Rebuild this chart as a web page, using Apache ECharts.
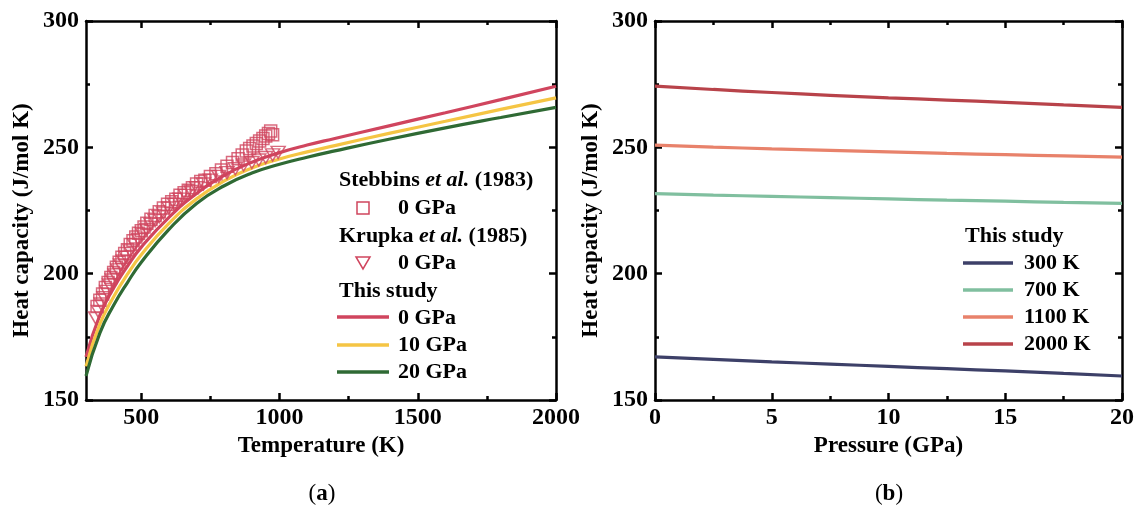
<!DOCTYPE html>
<html>
<head>
<meta charset="utf-8">
<script src="https://cdn.jsdelivr.net/npm/echarts@6/dist/echarts.min.js"></script>
<style>
  html, body { margin: 0; padding: 0; background: #fff; }
  #chart { width: 1141px; height: 513px; }
</style>
</head>
<body>
<div id="chart"></div>
<script>
// ---- (a) heat capacity against temperature ----
const tempK = [300, 350, 400, 450, 500, 600, 700, 800, 900, 1000, 1100, 1200, 1400, 1600, 1800, 2000];
const cp0GPa = [167.1, 183.5, 194.3, 203.0, 210.5, 222.3, 231.7, 238.9, 244.1, 247.9, 250.9, 253.5, 258.6, 263.7, 268.9, 274.2];
const cp10GPa = [163.3, 180.0, 190.9, 199.8, 207.5, 219.9, 229.6, 236.7, 241.8, 245.4, 248.2, 250.7, 255.6, 260.3, 265.0, 269.6];
const cp20GPa = [159.5, 176.5, 187.5, 196.5, 204.5, 217.5, 227.8, 234.8, 239.8, 243.3, 246.1, 248.6, 253.3, 257.7, 261.8, 265.8];

// Stebbins et al. (1983), 0 GPa
const stebbinsT = [340, 350, 360, 370, 380, 390, 400, 410, 420, 430, 440, 450, 460, 470, 480, 490, 500, 510, 520, 535, 550, 565, 580, 595, 610, 625, 640, 655, 670, 685, 700, 715, 730, 750, 770, 790, 810, 830, 850, 865, 880, 892, 904, 916, 928, 940, 950, 960, 968, 975];
const stebbinsCp = [187, 189.5, 192, 194.5, 196.5, 198.5, 200.5, 202.5, 204.5, 206.5, 208, 209.5, 211.5, 213, 214.5, 216, 217, 218.5, 220, 221.5, 223, 224.5, 226, 227.5, 228.5, 229.5, 231, 232, 233, 234, 235.5, 236.5, 237, 238.5, 239.5, 241, 242.5, 244, 245.5, 247, 248.5, 249.5, 250.5, 251.5, 252.5, 253.5, 254.5, 255.5, 256.5, 255];

// Krupka et al. (1985), 0 GPa
const krupkaT = [335, 345, 355, 365, 375, 385, 395, 405, 415, 425, 435, 445, 460, 475, 490, 505, 520, 535, 550, 565, 580, 600, 620, 640, 660, 680, 700, 725, 750, 780, 810, 840, 870, 900, 925, 950, 975, 995];
const krupkaCp = [182.5, 185, 188, 190.5, 193, 195.5, 197.5, 199.5, 201.5, 203.5, 205, 206.5, 209, 211.5, 213.5, 215.5, 217.5, 219.5, 221, 222.5, 224, 226, 227.5, 229.5, 231, 232.5, 234, 235.5, 237, 238.5, 240, 241.5, 243, 244, 245, 246, 247, 248];

const tempMajorTicks = [500, 1000, 1500, 2000];
const tempMinorTicks = [750, 1250, 1750];

// ---- (b) heat capacity against pressure ----
const pressureGPa = [0, 2.5, 5, 7.5, 10, 12.5, 15, 17.5, 20];
const cp300K = [167.1, 166.1, 165.1, 164.2, 163.3, 162.4, 161.5, 160.5, 159.5];
const cp700K = [231.7, 231.1, 230.6, 230.1, 229.6, 229.1, 228.7, 228.2, 227.8];
const cp1100K = [250.9, 250.1, 249.4, 248.8, 248.2, 247.6, 247.1, 246.6, 246.1];
const cp2000K = [274.2, 272.9, 271.7, 270.6, 269.6, 268.7, 267.8, 266.8, 265.8];

const FONT = '"Liberation Serif", "Times New Roman", serif';
const INK = '#000';

const C_RED = '#d0455e';
const C_YEL = '#f5c544';
const C_GRN = '#2f6a34';
const C_300 = '#3d4068';
const C_700 = '#80bf9f';
const C_1100 = '#e8826b';
const C_2000 = '#b8434a';

function zip(xs, ys) { return xs.map((x, i) => [x, ys[i]]); }

const tickStyle = { color: INK, width: 2.5 };
const plain = v => String(v);

function baseAxis(extra) {
  return Object.assign({
    type: 'value',
    axisLine: { show: true, onZero: false, lineStyle: { color: INK, width: 2.5 } },
    splitLine: { show: false },
    axisLabel: { show: false },
    axisTick: { show: true, inside: true, length: 7, lineStyle: tickStyle }
  }, extra);
}

const labelStyle = { color: INK, fontFamily: FONT, fontWeight: 'bold', fontSize: 24, formatter: plain };
const nameStyle = { color: INK, fontFamily: FONT, fontWeight: 'bold', fontSize: 23 };

function yAxes(gridIndex) {
  const common = {
    gridIndex, min: 150, max: 300, interval: 50,
    minorTick: { show: true, splitNumber: 2, length: 4, lineStyle: tickStyle },
    minorSplitLine: { show: false }
  };
  return [
    baseAxis(Object.assign({}, common, {
      position: 'left',
      name: 'Heat capacity (J/mol K)', nameLocation: 'middle', nameRotate: 90, nameGap: 52,
      nameTextStyle: Object.assign({ padding: [0, 20, 0, 0] }, nameStyle),
      axisLabel: Object.assign({ show: true, margin: 7 }, labelStyle)
    })),
    baseAxis(Object.assign({}, common, { position: 'right' }))
  ];
}

const xAxis = [
  // (a) temperature axes: labelled bottom, mirrored top, plus half-step ticks
  baseAxis({
    gridIndex: 0, position: 'bottom', min: 300, max: 2000,
    name: 'Temperature (K)', nameLocation: 'middle', nameGap: 30, nameTextStyle: nameStyle,
    axisLabel: Object.assign({ show: true, margin: 6, customValues: tempMajorTicks }, labelStyle),
    axisTick: { show: true, inside: true, length: 7, lineStyle: tickStyle, customValues: tempMajorTicks }
  }),
  baseAxis({
    gridIndex: 0, position: 'top', min: 300, max: 2000,
    axisTick: { show: true, inside: true, length: 7, lineStyle: tickStyle, customValues: tempMajorTicks }
  }),
  baseAxis({
    gridIndex: 0, position: 'bottom', min: 300, max: 2000,
    axisLine: { show: false },
    axisTick: { show: true, inside: true, length: 4, lineStyle: tickStyle, customValues: tempMinorTicks }
  }),
  baseAxis({
    gridIndex: 0, position: 'top', min: 300, max: 2000,
    axisLine: { show: false },
    axisTick: { show: true, inside: true, length: 4, lineStyle: tickStyle, customValues: tempMinorTicks }
  }),
  // (b) pressure axes
  baseAxis({
    gridIndex: 1, position: 'bottom', min: 0, max: 20, interval: 5,
    name: 'Pressure (GPa)', nameLocation: 'middle', nameGap: 30, nameTextStyle: nameStyle,
    axisLabel: Object.assign({ show: true, margin: 6 }, labelStyle),
    minorTick: { show: true, splitNumber: 2, length: 4, lineStyle: tickStyle },
    minorSplitLine: { show: false }
  }),
  baseAxis({
    gridIndex: 1, position: 'top', min: 0, max: 20, interval: 5,
    minorTick: { show: true, splitNumber: 2, length: 4, lineStyle: tickStyle },
    minorSplitLine: { show: false }
  })
];

const yAxis = [].concat(yAxes(0), yAxes(1));

function curve(name, xs, ys, color, xi, yi) {
  return {
    name, type: 'line', xAxisIndex: xi, yAxisIndex: yi,
    data: zip(xs, ys), smooth: true, showSymbol: false, silent: true,
    lineStyle: { color, width: 3.2 }, z: 3
  };
}

const series = [
  curve('0 GPa', tempK, cp0GPa, C_RED, 0, 0),
  curve('10 GPa', tempK, cp10GPa, C_YEL, 0, 0),
  curve('20 GPa', tempK, cp20GPa, C_GRN, 0, 0),
  {
    name: 'Stebbins', type: 'scatter', xAxisIndex: 0, yAxisIndex: 0,
    data: zip(stebbinsT, stebbinsCp), symbol: 'rect', symbolSize: 12, silent: true,
    itemStyle: { color: 'rgba(0,0,0,0)', borderColor: C_RED, borderWidth: 1.5 }, z: 4
  },
  {
    name: 'Krupka', type: 'scatter', xAxisIndex: 0, yAxisIndex: 0,
    data: zip(krupkaT, krupkaCp), symbol: 'triangle', symbolRotate: 180, symbolSize: [14, 12], silent: true,
    itemStyle: { color: 'rgba(0,0,0,0)', borderColor: C_RED, borderWidth: 1.5 }, z: 4
  },
  curve('300 K', pressureGPa, cp300K, C_300, 4, 2),
  curve('700 K', pressureGPa, cp700K, C_700, 4, 2),
  curve('1100 K', pressureGPa, cp1100K, C_1100, 4, 2),
  curve('2000 K', pressureGPa, cp2000K, C_2000, 4, 2)
];

// key boxes drawn as plain graphics
const KEY_SIZE = 22;
function txt(x, y, text, rich) {
  const style = { x, y, text, fill: INK, font: 'bold ' + KEY_SIZE + 'px ' + FONT, verticalAlign: 'middle', align: 'left' };
  if (rich) style.rich = rich;
  return { type: 'text', style, z: 10 };
}
function swatchLine(x1, x2, y, color) {
  return { type: 'line', shape: { x1, y1: y, x2, y2: y }, style: { stroke: color, lineWidth: 3.5 }, z: 10 };
}
const italicRich = {
  n: { fontFamily: FONT, fontWeight: 'bold', fontSize: KEY_SIZE, fill: INK },
  i: { fontFamily: FONT, fontWeight: 'bold', fontStyle: 'italic', fontSize: KEY_SIZE, fill: INK }
};
const captionRich = {
  n: { fontFamily: FONT, fontWeight: 'normal', fontSize: 23, fill: INK },
  b: { fontFamily: FONT, fontWeight: 'bold', fontSize: 23, fill: INK }
};

const graphic = [
  txt(339, 180, '{n|Stebbins }{i|et al.}{n| (1983)}', italicRich),
  { type: 'rect', shape: { x: 357, y: 202, width: 12, height: 12 }, style: { fill: 'none', stroke: C_RED, lineWidth: 1.5 }, z: 10 },
  txt(398, 208, '0 GPa'),
  txt(339, 236, '{n|Krupka }{i|et al.}{n| (1985)}', italicRich),
  { type: 'polygon', shape: { points: [[356, 257], [370, 257], [363, 269]] }, style: { fill: 'none', stroke: C_RED, lineWidth: 1.5 }, z: 10 },
  txt(398, 263, '0 GPa'),
  txt(339, 291, 'This study'),
  swatchLine(337, 389, 317, C_RED), txt(398, 318, '0 GPa'),
  swatchLine(337, 389, 345, C_YEL), txt(398, 345, '10 GPa'),
  swatchLine(337, 389, 372, C_GRN), txt(398, 372, '20 GPa'),

  txt(965, 236, 'This study'),
  swatchLine(963, 1013, 263, C_300), txt(1024, 263, '300 K'),
  swatchLine(963, 1013, 290, C_700), txt(1024, 290, '700 K'),
  swatchLine(963, 1013, 317, C_1100), txt(1024, 317, '1100 K'),
  swatchLine(963, 1013, 344, C_2000), txt(1024, 344, '2000 K'),

  { type: 'text', style: { x: 322, y: 494, text: '{n|(}{b|a}{n|)}', rich: captionRich, align: 'center', verticalAlign: 'middle', fill: INK, font: '23px ' + FONT }, z: 10 },
  { type: 'text', style: { x: 889, y: 494, text: '{n|(}{b|b}{n|)}', rich: captionRich, align: 'center', verticalAlign: 'middle', fill: INK, font: '23px ' + FONT }, z: 10 }
];

const chart = echarts.init(document.getElementById('chart'), null, { renderer: 'canvas' });
chart.setOption({
  backgroundColor: '#fff',
  animation: false,
  grid: [
    { left: 86, right: 1141 - 556, top: 21, bottom: 513 - 400 },
    { left: 655, right: 1141 - 1122, top: 21, bottom: 513 - 400 }
  ],
  xAxis, yAxis, series, graphic
});
</script>
</body>
</html>
